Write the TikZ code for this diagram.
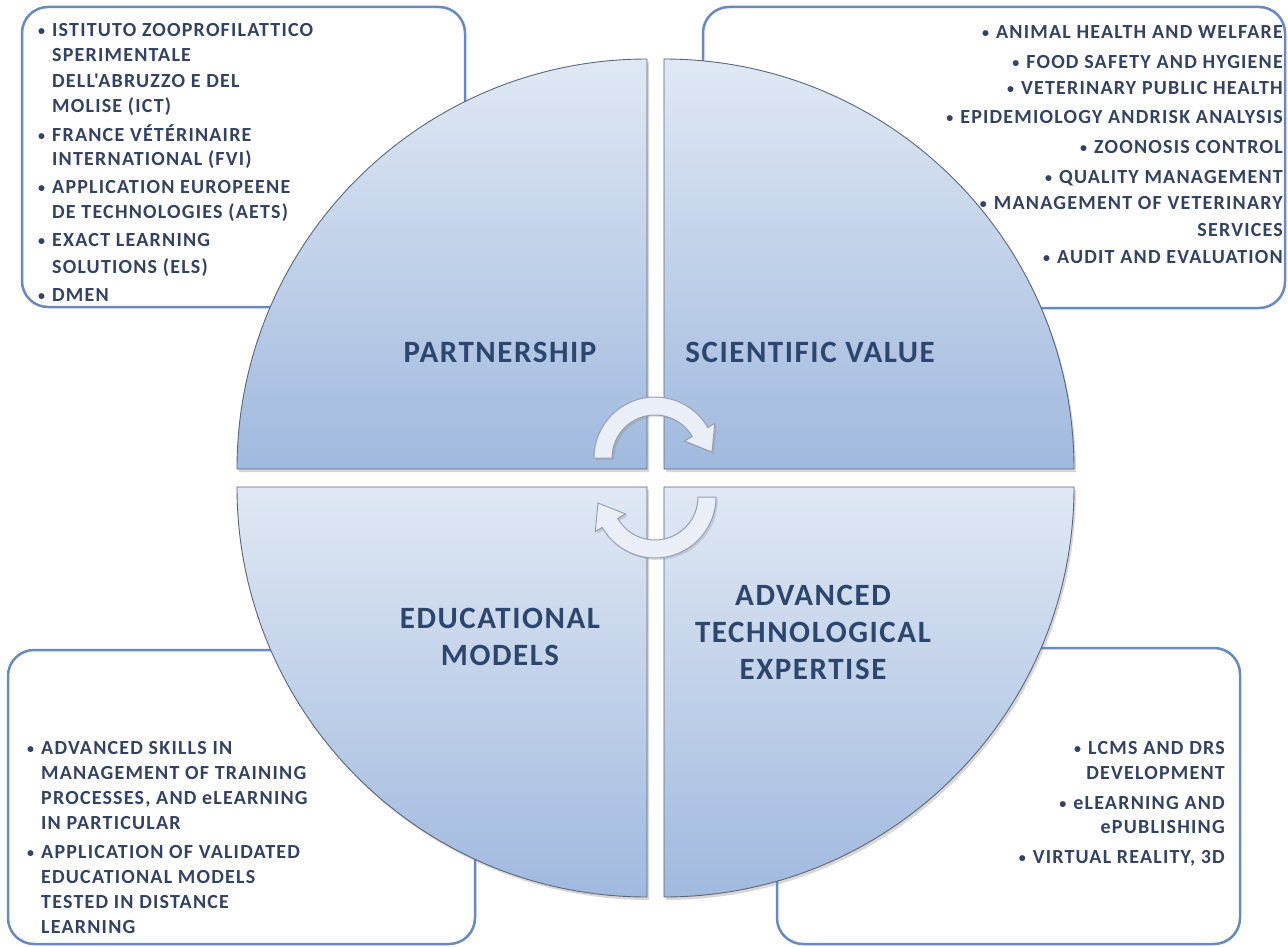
\documentclass[tikz,border=0pt]{standalone}
\usepackage{fontspec}
\usepackage{graphicx}
\setmainfont{Carlito}
\newfontfamily\boxfont[LetterSpace=6]{Carlito}
\newfontfamily\labfont[LetterSpace=5]{Carlito}
\usetikzlibrary{shadows}
\definecolor{boxline}{RGB}{104,138,192}
\definecolor{boxtext}{RGB}{52,66,98}
\definecolor{labtext}{RGB}{44,70,110}
\definecolor{qtop}{RGB}{224,232,244}
\definecolor{qbot}{RGB}{160,185,222}
\definecolor{qline}{RGB}{90,102,122}
\definecolor{arrfill}{RGB}{234,238,246}
\definecolor{arrline}{RGB}{150,160,178}
\newcommand\itmark{\makebox[14pt][l]{\raisebox{0.15ex}{\scalebox{0.7}{•}}}}
\begin{document}
\begin{tikzpicture}[x=1pt,y=-1pt,
 infobox/.style={draw=boxline, line width=2.5pt, fill=white, rounded corners=26pt},
 quad/.style={top color=qtop, bottom color=qbot, draw=qline, line width=0.9pt,
   drop shadow={opacity=0.3,shadow xshift=2pt,shadow yshift=-3pt}},
 boxtxt/.style={font=\boxfont\bfseries\fontsize{20}{25}\selectfont, text=boxtext, inner sep=0pt},
 lab/.style={font=\labfont\bfseries\fontsize{31}{37}\selectfont, text=labtext, align=center, inner sep=0pt},
 cyc/.style={fill=arrfill, draw=arrline, line width=1pt,
   drop shadow={opacity=0.25, shadow xshift=2pt, shadow yshift=-2pt}}]
\useasboundingbox (0,0) rectangle (1288,947);
\clip (0,0) rectangle (1288,947);
\fill[white] (0,0) rectangle (1288,947);
% information boxes
\draw[infobox] (22,7) rectangle (465,307);
\draw[infobox] (703,7) rectangle (1285,308);
\draw[infobox] (8,650) rectangle (475,944);
\draw[infobox] (777,648) rectangle (1240,944);
% box texts
\foreach \xx/\yy/\txt [count=\i] in {
 38/36.5/{\itmark ISTITUTO ZOOPROFILATTICO},
 52/61.5/{SPERIMENTALE},
 52/87.5/{DELL'ABRUZZO E DEL},
 52/112.5/{MOLISE (ICT)},
 38/141.5/{\itmark FRANCE VÉTÉRINAIRE},
 52/165.5/{INTERNATIONAL (FVI)},
 38/193.5/{\itmark APPLICATION EUROPEENE},
 52/218.5/{DE TECHNOLOGIES (AETS)},
 38/246.5/{\itmark EXACT LEARNING},
 52/273.5/{SOLUTIONS (ELS)},
 38/301.5/{\itmark DMEN}}
 \node[boxtxt, anchor=base west] (tl\i) at (\xx,\yy) {\txt};
\foreach \yy/\txt [count=\i] in {
 38.5/{\itmark ANIMAL HEALTH AND WELFARE},
 68.5/{\itmark FOOD SAFETY AND HYGIENE},
 94.5/{\itmark VETERINARY PUBLIC HEALTH},
 123.5/{\itmark EPIDEMIOLOGY ANDRISK ANALYSIS},
 153.5/{\itmark ZOONOSIS CONTROL},
 183.5/{\itmark QUALITY MANAGEMENT},
 209.5/{\itmark MANAGEMENT OF VETERINARY},
 236.5/{SERVICES},
 263.5/{\itmark AUDIT AND EVALUATION}}
 \node[boxtxt, anchor=base east] (tr\i) at (1283,\yy) {\txt};
\foreach \xx/\yy/\txt [count=\i] in {
 27/754.5/{\itmark ADVANCED SKILLS IN},
 41/779.5/{MANAGEMENT OF TRAINING},
 41/804.5/{PROCESSES, AND eLEARNING},
 41/829.5/{IN PARTICULAR},
 27/858.5/{\itmark APPLICATION OF VALIDATED},
 41/883.5/{EDUCATIONAL MODELS},
 41/908.5/{TESTED IN DISTANCE},
 41/933.5/{LEARNING}}
 \node[boxtxt, anchor=base west] (bl\i) at (\xx,\yy) {\txt};
\foreach \yy/\txt [count=\i] in {
 754.5/{\itmark LCMS AND DRS},
 779.5/{DEVELOPMENT},
 809.5/{\itmark eLEARNING AND},
 833.5/{ePUBLISHING},
 863.5/{\itmark VIRTUAL REALITY, 3D}}
 \node[boxtxt, anchor=base east] (br\i) at (1225,\yy) {\txt};
% quadrants
\path[quad] (647,469) -- (237,469) arc[start angle=180,end angle=270,radius=410] -- cycle;
\path[quad] (664,469) -- (664,59) arc[start angle=270,end angle=360,radius=410] -- cycle;
\path[quad] (647,487) -- (647,897) arc[start angle=90,end angle=180,radius=410] -- cycle;
\path[quad] (664,487) -- (1074,487) arc[start angle=0,end angle=90,radius=410] -- cycle;
% cycle arrows
\begin{scope}[shift={(655,458)}]
\path[cyc] (180:61) arc[start angle=180,end angle=330,radius=61] -- (330:69) -- (57,-6)
  -- (330:34) -- (330:43) arc[start angle=330,end angle=180,radius=43] -- cycle;
\end{scope}
\begin{scope}[shift={(655,497)}]
\path[cyc] (0:61) arc[start angle=0,end angle=150,radius=61] -- (150:69) -- (-57,6)
  -- (150:34) -- (150:43) arc[start angle=150,end angle=0,radius=43] -- cycle;
\end{scope}
% labels
\node[lab] (p) at (500,352) {PARTNERSHIP};
\node[lab] (s) at (810,352) {SCIENTIFIC VALUE};
\node[lab] (e) at (500,637) {EDUCATIONAL\\MODELS};
\node[lab] (a) at (813,632) {ADVANCED\\TECHNOLOGICAL\\EXPERTISE};
\end{tikzpicture}
\end{document}
